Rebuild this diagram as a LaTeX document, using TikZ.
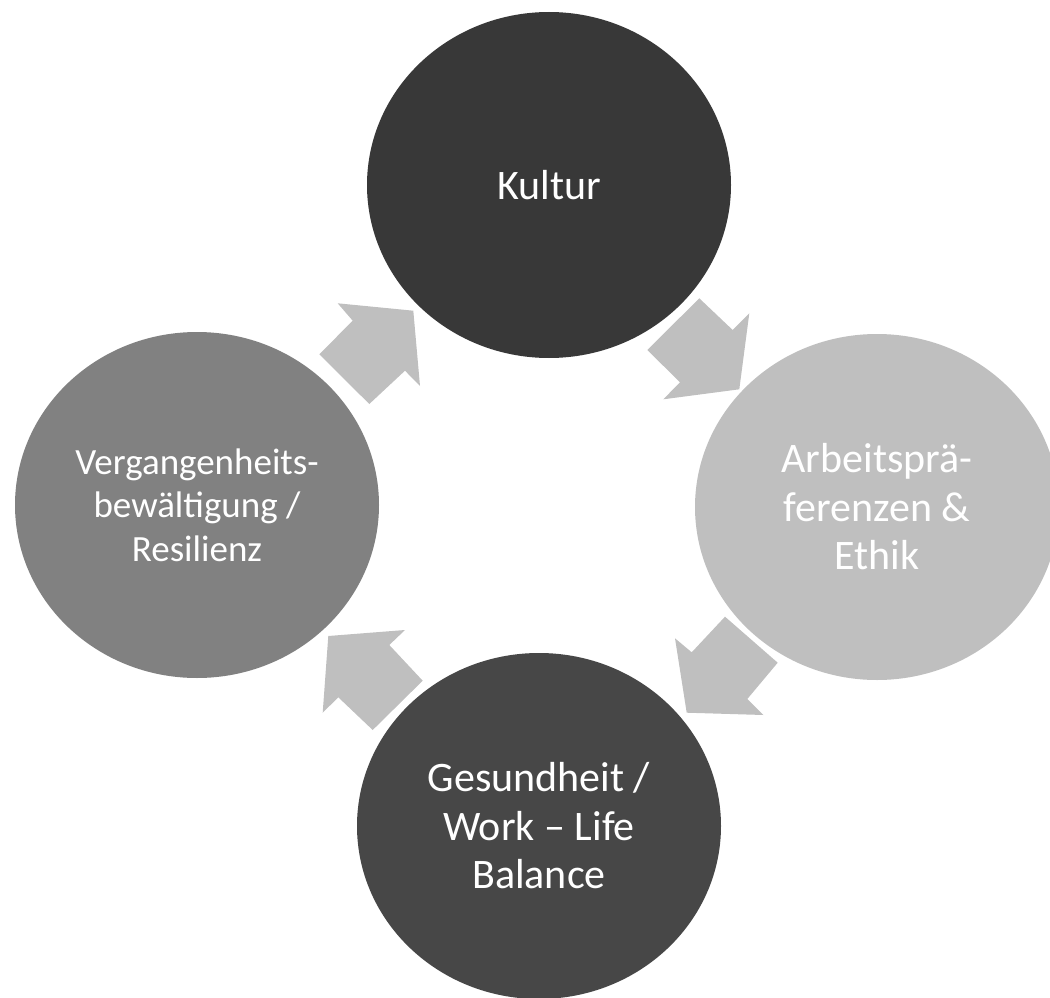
\documentclass[tikz,border=0pt]{standalone}
\usepackage{fontspec}
\setmainfont{Carlito}
\usetikzlibrary{shapes.geometric}
\definecolor{darkA}{HTML}{383838}
\definecolor{darkB}{HTML}{474747}
\definecolor{midgray}{HTML}{818181}
\definecolor{lightgray}{HTML}{BFBFBF}
\begin{document}
\begin{tikzpicture}[x=1pt,y=-1pt,
  circ/.style={ellipse, minimum width=364pt, minimum height=346pt, inner sep=0pt, text=white, align=center},
  bigtext/.style={font=\fontsize{42}{48.5}\selectfont},
  blockarrow/.style={fill=lightgray, draw=none}]
\useasboundingbox (0,0) rectangle (1050,998);
% circles
\node[circ, bigtext, fill=darkA] (kultur) at (549,185) {Kultur};
\node[circ, bigtext, fill=lightgray] (arbeit) at (877,507) {Arbeitsprä-\\ferenzen \&\\Ethik};
\node[circ, bigtext, fill=darkB] (gesund) at (539,826) {Gesundheit /\\Work – Life\\Balance};
\node[circ, fill=midgray, font=\fontsize{37}{43.5}\selectfont] (verg) at (197,505) {Vergangenheits-\\bewältigung /\\Resilienz};
% block arrows
\fill[blockarrow] (319.3,354.3) -- (352.7,320.7) -- (337.7,303.3) -- (413.3,310.7) -- (420,386) -- (405,370.7) -- (369.3,404) -- cycle;
\fill[blockarrow] (699.3,298.3) -- (732.7,330) -- (749.3,313.3) -- (739.3,389.3) -- (663.3,399.3) -- (680,382.3) -- (647.3,350) -- cycle;
\fill[blockarrow] (777.7,662.7) -- (747.3,699) -- (763.3,715) -- (686.7,712.7) -- (675,638.3) -- (691.7,652.3) -- (725,616.7) -- cycle;
\fill[blockarrow] (422.7,680.7) -- (389.3,645) -- (405,630) -- (328.3,636) -- (322.7,712.7) -- (338.3,697.3) -- (372.7,730) -- cycle;
\end{tikzpicture}
\end{document}
